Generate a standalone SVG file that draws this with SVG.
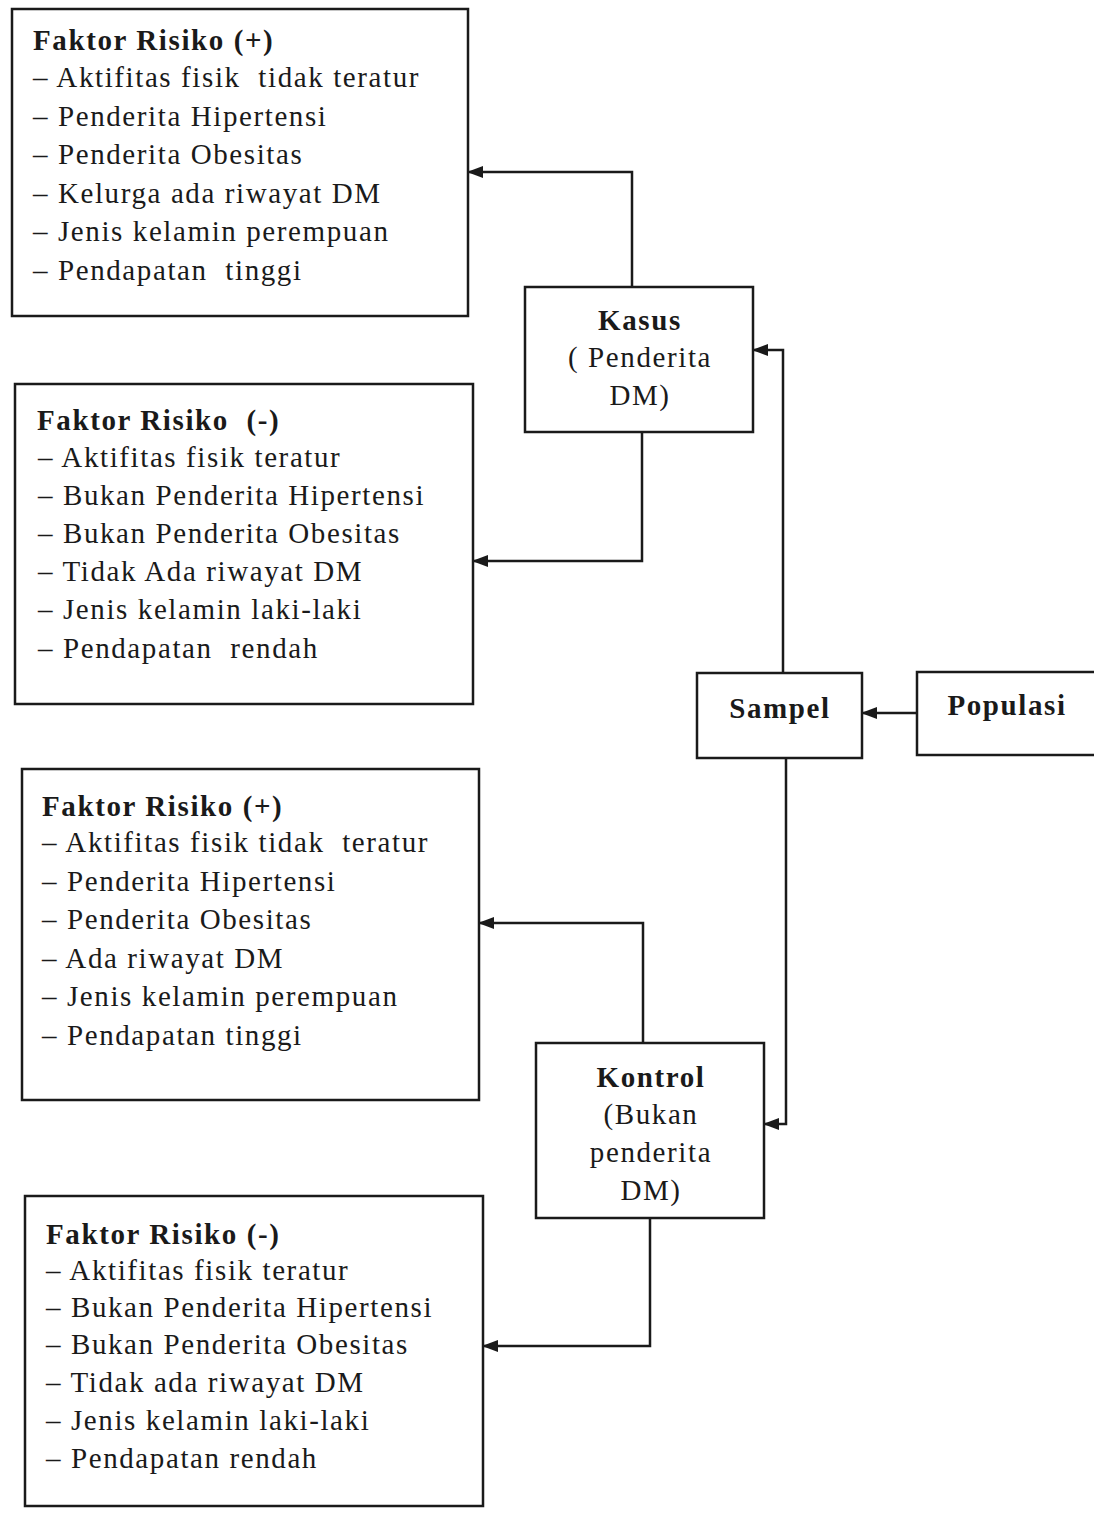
<svg xmlns="http://www.w3.org/2000/svg" width="1094" height="1518" viewBox="0 0 1094 1518">
<style>
.box{fill:#fff;stroke:#1a1a1a;stroke-width:2.5}
.t{font-family:"Liberation Serif","Times New Roman",serif;font-size:29px;letter-spacing:1.6px;fill:#1a1a1a;white-space:pre}
.b{font-weight:bold}
.c{text-anchor:middle}
.ln{fill:none;stroke:#1a1a1a;stroke-width:2.5}
</style>
<defs>
<marker id="ah" markerUnits="userSpaceOnUse" markerWidth="16" markerHeight="14" refX="15" refY="7" orient="auto">
<path d="M0,1 L16,7 L0,13 Z" fill="#1a1a1a"/>
</marker>
</defs>
<rect width="1094" height="1518" fill="#fff"/>
<g id="connectors">
<path class="ln" d="M632,287 V172 H468" marker-end="url(#ah)"/>
<path class="ln" d="M642,432 V561 H473" marker-end="url(#ah)"/>
<path class="ln" d="M783,673 V350 H753" marker-end="url(#ah)"/>
<path class="ln" d="M917,713 H862" marker-end="url(#ah)"/>
<path class="ln" d="M786,758 V1124 H764" marker-end="url(#ah)"/>
<path class="ln" d="M643,1043 V923 H479" marker-end="url(#ah)"/>
<path class="ln" d="M650,1218 V1346 H483" marker-end="url(#ah)"/>
</g>
<g id="faktor-plus-kasus">
<rect class="box" x="12" y="9" width="456" height="307"/>
<text class="t b" x="33" y="50">Faktor Risiko (+)</text>
<text class="t" x="33" y="87">– Aktifitas fisik  tidak teratur</text>
<text class="t" x="33" y="126">– Penderita Hipertensi</text>
<text class="t" x="33" y="164">– Penderita Obesitas</text>
<text class="t" x="33" y="203">– Kelurga ada riwayat DM</text>
<text class="t" x="33" y="241">– Jenis kelamin perempuan</text>
<text class="t" x="33" y="280">– Pendapatan  tinggi</text>
</g>
<g id="kasus">
<rect class="box" x="525" y="287" width="228" height="145"/>
<text class="t b c" x="640" y="330">Kasus</text>
<text class="t c" x="640" y="367">( Penderita</text>
<text class="t c" x="640" y="405">DM)</text>
</g>
<g id="faktor-minus-kasus">
<rect class="box" x="15" y="384" width="458" height="320"/>
<text class="t b" x="37" y="430">Faktor Risiko  (-)</text>
<text class="t" x="38" y="467">– Aktifitas fisik teratur</text>
<text class="t" x="38" y="505">– Bukan Penderita Hipertensi</text>
<text class="t" x="38" y="543">– Bukan Penderita Obesitas</text>
<text class="t" x="38" y="581">– Tidak Ada riwayat DM</text>
<text class="t" x="38" y="619">– Jenis kelamin laki-laki</text>
<text class="t" x="38" y="658">– Pendapatan  rendah</text>
</g>
<g id="sampel">
<rect class="box" x="697" y="673" width="165" height="85"/>
<text class="t b c" x="780" y="718">Sampel</text>
</g>
<g id="populasi">
<rect class="box" x="917" y="672" width="190" height="83"/>
<text class="t b c" x="1007" y="715">Populasi</text>
</g>
<g id="faktor-plus-kontrol">
<rect class="box" x="22" y="769" width="457" height="331"/>
<text class="t b" x="42" y="816">Faktor Risiko (+)</text>
<text class="t" x="42" y="852">– Aktifitas fisik tidak  teratur</text>
<text class="t" x="42" y="891">– Penderita Hipertensi</text>
<text class="t" x="42" y="929">– Penderita Obesitas</text>
<text class="t" x="42" y="968">– Ada riwayat DM</text>
<text class="t" x="42" y="1006">– Jenis kelamin perempuan</text>
<text class="t" x="42" y="1045">– Pendapatan tinggi</text>
</g>
<g id="kontrol">
<rect class="box" x="536" y="1043" width="228" height="175"/>
<text class="t b c" x="651" y="1087">Kontrol</text>
<text class="t c" x="651" y="1124">(Bukan</text>
<text class="t c" x="651" y="1162">penderita</text>
<text class="t c" x="651" y="1200">DM)</text>
</g>
<g id="faktor-minus-kontrol">
<rect class="box" x="25" y="1196" width="458" height="310"/>
<text class="t b" x="46" y="1244">Faktor Risiko (-)</text>
<text class="t" x="46" y="1280">– Aktifitas fisik teratur</text>
<text class="t" x="46" y="1317">– Bukan Penderita Hipertensi</text>
<text class="t" x="46" y="1354">– Bukan Penderita Obesitas</text>
<text class="t" x="46" y="1392">– Tidak ada riwayat DM</text>
<text class="t" x="46" y="1430">– Jenis kelamin laki-laki</text>
<text class="t" x="46" y="1468">– Pendapatan rendah</text>
</g>
</svg>
